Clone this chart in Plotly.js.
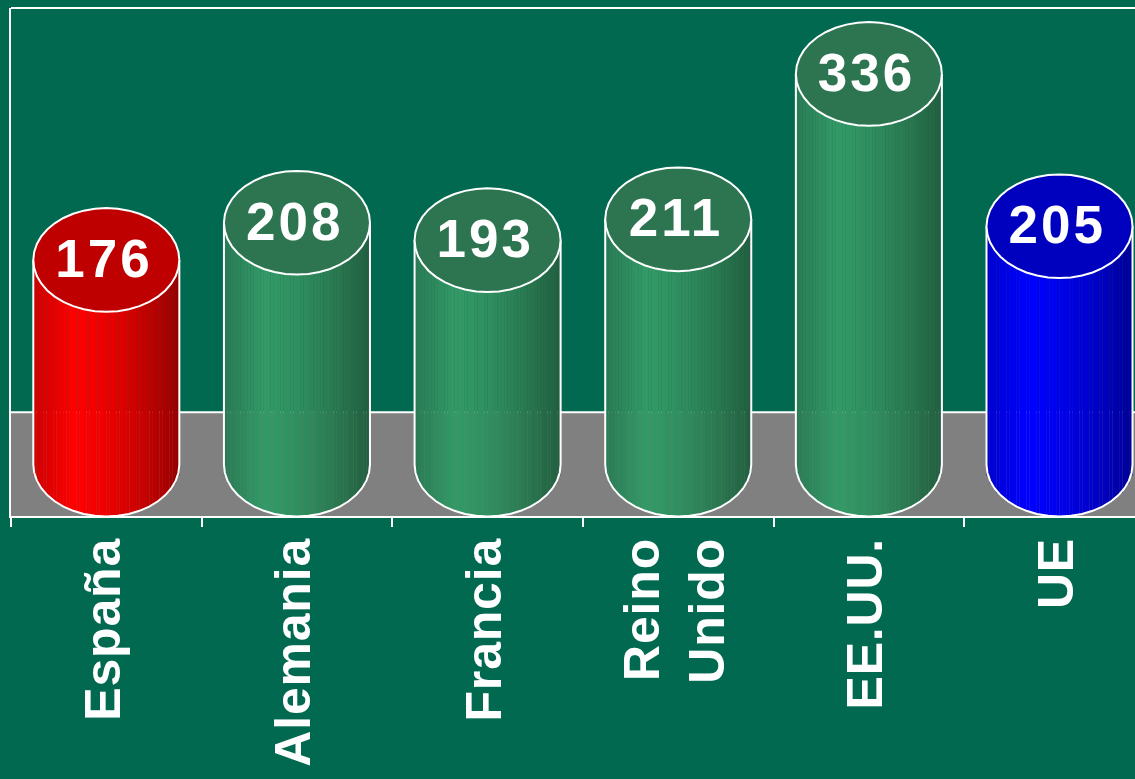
<!DOCTYPE html>
<html>
<head>
<meta charset="utf-8">
<script src="https://cdn.plot.ly/plotly-3.0.1.min.js"></script>
<style>
html,body{margin:0;padding:0;background:#006950;overflow:hidden}
g.xtick text{letter-spacing:0.8px;translate:-3px 0}
g.textpoint text{letter-spacing:3px}
</style>
</head>
<body>
<div id="chart" style="width:1135px;height:779px"></div>
<script>
const categories = ["España", "Alemania", "Francia", "Reino<br>Unido", "EE.UU.", "UE"];
const values = [176, 208, 193, 211, 336, 205];
const palette = ["red", "green", "green", "green", "green", "blue"];

const gradients = {
  red:   {edge:[205,0,0],   bright:[255,0,0],    dark:[150,0,0],   top:"#bf0000"},
  green: {edge:[42,122,85], bright:[51,153,102], dark:[34,94,63], top:"#2c7550"},
  blue:  {edge:[0,0,205],   bright:[0,0,255],    dark:[0,0,150],   top:"#0000bf"}
};
const halfWidth = 0.383, halfDepth = 44.6, slices = 44, xRange = [-0.5, 5.396], yRange = [-44.2, 392.7], floorTop = 45;
const labelDrop = 3;

function mix(a, b, t){ return a.map((v,i)=>Math.round(v+(b[i]-v)*t)); }
function shade(g, t){
  const c = t < 0.27 ? mix(g.edge, g.bright, t/0.27) : mix(g.bright, g.dark, Math.pow((t-0.27)/0.73, 1.5));
  return `rgb(${c.join(",")})`;
}

const traces = [{
  type:"scatter", mode:"markers", x:categories, y:values, xaxis:"x", yaxis:"y",
  marker:{opacity:0}, hoverinfo:"skip", showlegend:false
}];

values.forEach((v, i) => {
  const g = gradients[palette[i]];
  const xs = [], heights = [], bases = [], colors = [];
  const w = 2*halfWidth/slices;
  for (let s = 0; s < slices; s++){
    const t = (s+0.5)/slices, u = 2*t-1;
    const b = -halfDepth*Math.sqrt(1-u*u);
    xs.push(i+u*halfWidth); bases.push(b); heights.push(v-b); colors.push(shade(g,t));
  }
  traces.push({type:"bar", x:xs, y:heights, base:bases, width:w*1.05, xaxis:"x2", yaxis:"y",
    marker:{color:colors, line:{width:0}}, hoverinfo:"skip", showlegend:false});

  const ox = [i-halfWidth], oy = [v];
  const arc = 20;
  for (let k = 0; k <= arc; k++){
    const a = Math.PI + Math.PI*k/arc;
    ox.push(i+halfWidth*Math.cos(a)); oy.push(halfDepth*Math.sin(a));
  }
  ox.push(i+halfWidth); oy.push(v);
  traces.push({type:"scatter", mode:"lines", x:ox, y:oy, xaxis:"x2", yaxis:"y",
    line:{color:"#ffffff", width:2}, hoverinfo:"skip", showlegend:false});

  const ex = [], ey = [];
  const ring = 40;
  for (let k = 0; k <= ring; k++){
    const a = 2*Math.PI*k/ring;
    ex.push(i+halfWidth*Math.cos(a)); ey.push(v+halfDepth*Math.sin(a));
  }
  traces.push({type:"scatter", mode:"lines", x:ex, y:ey, xaxis:"x2", yaxis:"y", fill:"toself",
    fillcolor:g.top, line:{color:"#ffffff", width:2}, hoverinfo:"skip", showlegend:false});
});

traces.push({type:"scatter", mode:"text", x:values.map((_,i)=>i-0.012), y:values.map(v=>v-labelDrop), xaxis:"x2", yaxis:"y",
  text:values.map(String), textposition:"middle center", cliponaxis:false,
  textfont:{family:"Liberation Sans", size:53, color:"#ffffff", weight:700},
  hoverinfo:"skip", showlegend:false});

const layout = {
  width:1135, height:779, margin:{l:11, r:0, t:8, b:263, pad:0},
  paper_bgcolor:"#006950", plot_bgcolor:"#006950", showlegend:false, barmode:"overlay", hovermode:false,
  font:{family:"Liberation Sans", color:"#ffffff"},
  xaxis:{type:"category", categoryorder:"array", categoryarray:categories, range:xRange, tickson:"boundaries",
    ticks:"outside", ticklen:9, tickwidth:2, tickcolor:"#ffffff", showline:true, linewidth:2, linecolor:"#ffffff",
    showgrid:false, zeroline:false, tickangle:-90, automargin:false,
    tickfont:{family:"Liberation Sans", size:50, color:"#ffffff", weight:700}},
  xaxis2:{overlaying:"x", range:xRange, visible:false, fixedrange:true},
  yaxis:{range:yRange, showline:true, linewidth:2, linecolor:"#ffffff", showgrid:false, zeroline:false,
    ticks:"", showticklabels:false, fixedrange:true},
  shapes:[
    {type:"rect", layer:"below", xref:"paper", yref:"y", x0:0, x1:1, y0:yRange[0], y1:floorTop,
     fillcolor:"#808080", line:{width:0}},
    {type:"line", layer:"below", xref:"paper", yref:"y", x0:0, x1:1, y0:floorTop, y1:floorTop,
     line:{color:"#ffffff", width:2}},
    {type:"line", layer:"above", xref:"paper", yref:"paper", x0:0, x1:1, y0:1, y1:1,
     line:{color:"#ffffff", width:2}}
  ]
};
Plotly.newPlot("chart", traces, layout, {displayModeBar:false, staticPlot:true});
</script>
</body>
</html>
